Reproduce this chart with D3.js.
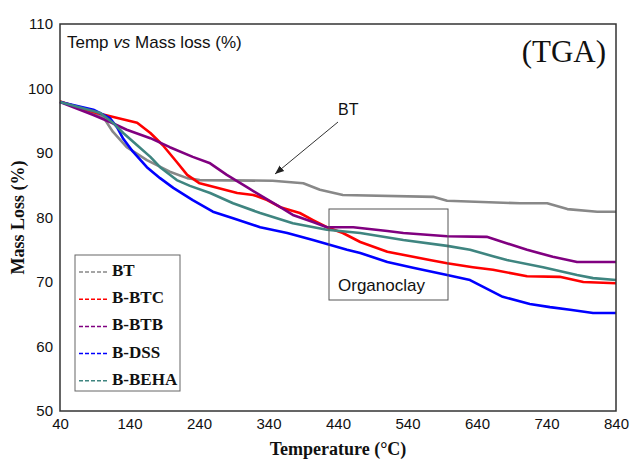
<!DOCTYPE html>
<html>
<head>
<meta charset="utf-8">
<script src="https://cdn.jsdelivr.net/npm/d3@7"></script>
<style>
  body { margin: 0; background: #fff; }
  text { font-family: Arial, "Liberation Sans", sans-serif; }
  .serif { font-family: "Times New Roman", "Liberation Serif", serif; }
</style>
</head>
<body>
<div id="chart"></div>
<script>
// series names, colours and values
const seriesNames = ['BT', 'B-BTC', 'B-BTB', 'B-DSS', 'B-BEHA'];
const seriesColors = ['#888888', '#ff0000', '#800080', '#0000ff', '#3f8580'];

const btTemp = [40, 98, 102, 116, 136, 165, 198, 223, 241, 346, 390, 414, 447, 577, 597, 702, 741, 770, 813, 840];
const btMass = [98, 95.7, 95.6, 93.3, 90.9, 88.9, 87.1, 86.1, 85.8, 85.7, 85.3, 84.3, 83.5, 83.2, 82.6, 82.2, 82.2, 81.3, 80.9, 80.9];

const btcTemp = [40, 93, 151, 170, 188, 208, 223, 241, 266, 295, 318, 338, 357, 385, 404, 424, 447, 472, 511, 548, 572, 597, 634, 663, 712, 759, 793, 840];
const btcMass = [98, 96.2, 94.7, 93.1, 91.2, 88.6, 86.6, 85.3, 84.6, 83.8, 83.5, 82.7, 81.6, 80.7, 79.6, 78.5, 77.6, 76.2, 74.7, 73.9, 73.4, 72.9, 72.3, 71.9, 70.9, 70.8, 70.0, 69.8];

const btbTemp = [40, 88, 112, 136, 170, 198, 231, 256, 280, 309, 332, 357, 375, 404, 424, 462, 511, 534, 597, 654, 677, 712, 749, 784, 840];
const btbMass = [97.9, 95.9, 94.8, 93.6, 92.3, 90.9, 89.4, 88.4, 86.6, 84.7, 83.2, 81.6, 80.4, 79.3, 78.5, 78.5, 77.9, 77.6, 77.1, 77.0, 76.2, 75.0, 73.9, 73.1, 73.1];

const dssTemp = [40, 88, 112, 122, 131, 145, 165, 184, 203, 231, 260, 289, 328, 367, 404, 453, 472, 511, 548, 597, 630, 644, 677, 716, 745, 774, 807, 840];
const dssMass = [97.9, 96.7, 95.4, 94.0, 92.2, 90.2, 87.8, 86.1, 84.6, 82.7, 80.9, 79.9, 78.5, 77.6, 76.5, 75.0, 74.5, 73.1, 72.2, 71.1, 70.3, 69.5, 67.7, 66.6, 66.1, 65.7, 65.2, 65.2];

const behaTemp = [40, 98, 116, 131, 151, 170, 184, 208, 227, 256, 289, 328, 375, 424, 472, 534, 597, 630, 663, 683, 735, 784, 807, 840];
const behaMass = [97.9, 96.2, 94.7, 93.1, 91.2, 89.4, 87.8, 85.8, 84.9, 83.8, 82.2, 80.7, 79.1, 78.1, 77.6, 76.5, 75.6, 75.0, 74.0, 73.4, 72.3, 71.1, 70.6, 70.3];

const xTicks = [40, 140, 240, 340, 440, 540, 640, 740, 840];
const yTicks = [50, 60, 70, 80, 90, 100, 110];

const seriesTemps = [btTemp, btcTemp, btbTemp, dssTemp, behaTemp];
const seriesMass = [btMass, btcMass, btbMass, dssMass, behaMass];

const width = 630;
const height = 461;
const margin = { top: 24, left: 60, bottom: 50, right: 14 };

let svg = d3.select('#chart').append('svg')
    .attr('width', width)
    .attr('height', height);

let x = d3.scaleLinear().domain([40, 840]).range([margin.left, width - margin.right]);
let y = d3.scaleLinear().domain([50, 110]).range([height - margin.bottom, margin.top]);

//-----Axes-------
let xAxis = d3.axisBottom(x).tickValues(xTicks).tickSize(0).tickPadding(7);
svg.append('g').attr('class', 'axis x')
    .attr('transform', 'translate(0,' + (height - margin.bottom) + ')')
    .call(xAxis)
    .call(g => g.select('.domain').remove())
    .selectAll('text').attr('font-size', 15).attr('font-family', 'Arial, "Liberation Sans", sans-serif').attr('fill', '#111');

let yAxis = d3.axisLeft(y).tickValues(yTicks).tickSize(0).tickPadding(7);
svg.append('g').attr('class', 'axis y')
    .attr('transform', 'translate(' + margin.left + ',0)')
    .call(yAxis)
    .call(g => g.select('.domain').remove())
    .selectAll('text').attr('font-size', 15).attr('font-family', 'Arial, "Liberation Sans", sans-serif').attr('fill', '#111');

//-----Lines-------
let line = d3.line()
    .x(d => x(d[0]))
    .y(d => y(d[1]));

seriesNames.forEach(function(name, i) {
    let pts = seriesTemps[i].map((t, j) => [t, seriesMass[i][j]]);
    svg.append('path')
        .datum(pts)
        .attr('fill', 'none')
        .attr('stroke', seriesColors[i])
        .attr('stroke-width', 2.6)
        .attr('stroke-linejoin', 'round')
        .attr('d', line);
});

// frame
svg.append('rect')
    .attr('x', x(40)).attr('y', y(110))
    .attr('width', x(840) - x(40)).attr('height', y(50) - y(110))
    .attr('fill', 'none').attr('stroke', '#333').attr('stroke-width', 1.5);

//-----Texts-------
svg.append('text').attr('x', 67).attr('y', 48).attr('font-size', 17).attr('fill', '#111')
    .html('Temp <tspan font-style="italic">vs</tspan> Mass loss (%)');

svg.append('text').attr('class', 'serif').attr('x', 606).attr('y', 62)
    .attr('text-anchor', 'end').attr('font-size', 31).attr('fill', '#111')
    .text('(TGA)');

svg.append('text').attr('class', 'serif').attr('x', (x(40) + x(840)) / 2).attr('y', 455)
    .attr('text-anchor', 'middle').attr('font-size', 18).attr('font-weight', 'bold').attr('fill', '#111')
    .text('Temperature (°C)');

svg.append('text').attr('class', 'serif')
    .attr('transform', 'translate(24,' + ((y(50) + y(110)) / 2) + ') rotate(-90)')
    .attr('text-anchor', 'middle').attr('font-size', 18).attr('font-weight', 'bold').attr('fill', '#111')
    .text('Mass Loss (%)');

// BT arrow
svg.append('defs').append('marker')
    .attr('id', 'arrow').attr('viewBox', '0 0 10 10')
    .attr('refX', 10).attr('refY', 5)
    .attr('markerWidth', 9).attr('markerHeight', 9)
    .attr('orient', 'auto')
    .append('path').attr('d', 'M0,1 L10,5 L0,9 Z').attr('fill', '#222');

svg.append('line')
    .attr('x1', 338).attr('y1', 122).attr('x2', 275).attr('y2', 174)
    .attr('stroke', '#333').attr('stroke-width', 1)
    .attr('marker-end', 'url(#arrow)');

svg.append('text').attr('x', 338).attr('y', 115).attr('font-size', 16).attr('fill', '#111').text('BT');

// Organoclay box
svg.append('rect').attr('x', 329).attr('y', 209).attr('width', 119).attr('height', 91)
    .attr('fill', 'none').attr('stroke', '#555').attr('stroke-width', 1);
svg.append('text').attr('x', 338).attr('y', 291).attr('font-size', 17).attr('fill', '#111').text('Organoclay');

//-----Legend-------
let legend = svg.append('g').attr('transform', 'translate(75,255)');
legend.append('rect').attr('width', 105).attr('height', 136)
    .attr('fill', '#fff').attr('stroke', '#666').attr('stroke-width', 1);

let items = legend.selectAll('g.item')
    .data(seriesNames)
    .enter().append('g')
        .attr('class', 'item')
        .attr('transform', (d, i) => 'translate(0,' + (21 + i * 27.2) + ')');

items.append('line')
    .attr('x1', 4).attr('x2', 33).attr('y1', -4).attr('y2', -4)
    .attr('stroke', (d, i) => seriesColors[i])
    .attr('stroke-width', 1.5)
    .attr('stroke-dasharray', '4,2');

items.append('text').attr('class', 'serif')
    .attr('x', 37).attr('y', 0)
    .attr('font-size', 17).attr('font-weight', 'bold').attr('fill', '#111')
    .text(d => d);
</script>
</body>
</html>
